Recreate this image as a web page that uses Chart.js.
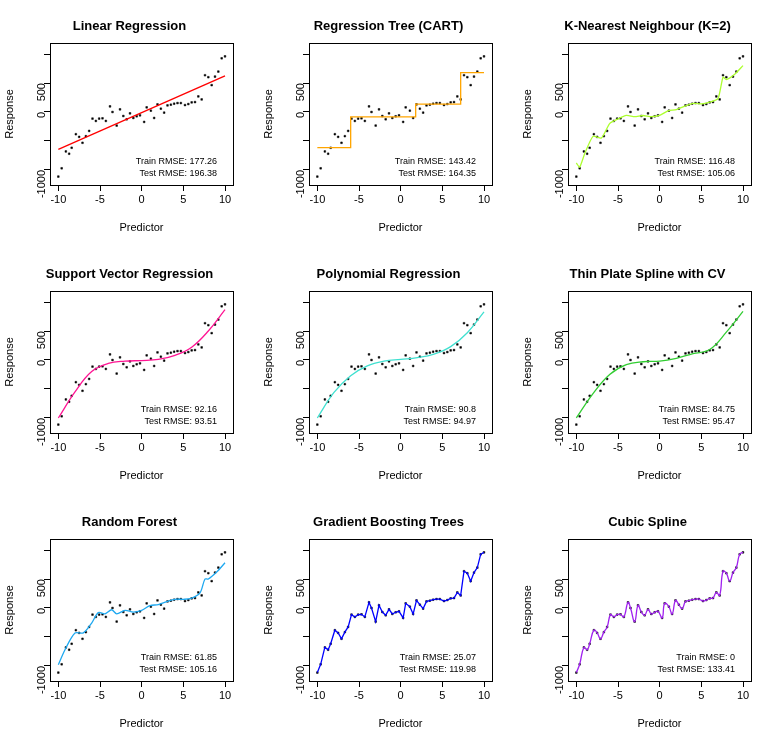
<!DOCTYPE html>
<html><head><meta charset="utf-8">
<script src="https://cdn.jsdelivr.net/npm/chart.js@4/dist/chart.umd.min.js"></script>
<style>body{margin:0;background:#fff}#g{position:relative;width:777px;height:744px}
.c{position:absolute;width:259px;height:248px}</style></head><body><div id="g"></div>
<script>
const dataX=[-10,-9.6,-9.1,-8.7,-8.4,-7.9,-7.5,-7.1,-6.7,-6.3,-5.9,-5.5,-5.1,-4.7,-4.3,-3.8,-3.5,-3.0,-2.6,-2.2,-1.8,-1.4,-1.0,-0.6,-0.2,0.3,0.6,1.1,1.5,1.9,2.3,2.7,3.1,3.5,3.9,4.3,4.7,5.2,5.6,6.0,6.4,6.8,7.2,7.6,8.0,8.4,8.8,9.2,9.6,10.0];
const dataY=[-1114,-971,-680,-720,-617,-383,-429,-531,-417,-326,-114,-154,-114,-109,-154,97,0,-234,46,-69,-126,-23,-103,-74,-57,-171,80,23,-103,131,57,-11,114,126,143,154,154,120,137,166,171,269,217,634,600,463,611,697,926,960];
const titles=["Linear Regression","Regression Tree (CART)","K-Nearest Neighbour (K=2)","Support Vector Regression","Polynomial Regression","Thin Plate Spline with CV","Random Forest","Gradient Boosting Trees","Cubic Spline"];
const trainRMSE=["177.26","143.42","116.48","92.16","90.8","84.75","61.85","25.07","0"];
const testRMSE=["196.38","164.35","105.06","93.51","94.97","95.47","105.16","119.98","133.41"];
const colors=["#FF0000","#FFA500","#ADFF2F","#FF1493","#40E0D0","#32CD32","#1EA8F0","#0000FF","#A020F0"];
const linX=[-10,10], linY=[-646,624];
const cartX=[-10,-6,-6,1.8,1.8,7.2,7.2,10], cartY=[-615,-615,-85,-85,137,137,680,680];
const knnX=[-10,-9.6,-9,-8,-7,-6,-5,-4,-3,-2,-1,0,1,2,3,4,5,6,7,7.6,8,9,10];
const knnY=[-880,-950,-720,-420,-450,-200,-120,-60,-80,-60,-80,-60,20,40,100,150,140,170,230,600,560,650,800];
const svrX=[-10,-8,-6,-4,-2,0,2,4,6,8,10], svrY=[-1000,-550,-200,-60,-20,-10,10,80,220,500,870];
const polyX=[-10,-8,-6,-4,-2,0,2,4,6,8,10], polyY=[-1000,-560,-270,-100,-20,10,40,100,230,470,830];
const tpsX=[-10,-8,-6,-4,-2,0,2,4,6,8,10], tpsY=[-1000,-580,-250,-80,-30,-20,30,110,180,480,840];
const rfX=[-10,-9.2,-8,-7,-6,-5.2,-4.4,-3.6,-3,-2,-1,0,1,2,3,4,5,6,7,7.6,8,9,10];
const rfY=[-980,-720,-430,-430,-260,-80,-100,-30,-100,-40,-70,-40,40,60,110,150,150,170,260,500,500,620,780];
const fits=[[linX,linY,0],[cartX,cartY,0],[knnX,knnY,0.2],[svrX,svrY,0.4],[polyX,polyY,0.4],[tpsX,tpsY,0.4],[rfX,rfY,0.3],[dataX,dataY,0],[dataX,dataY,0.45]];
const xTicks=[-10,-5,0,5,10], yTicks=[-1000,-500,0,500,1000], yLabels=["-1000","","0","500",""];
const F="'Liberation Sans', Arial, sans-serif";
const pts=(xs,ys)=>xs.map((x,i)=>({x,y:ys[i]}));
const g=document.getElementById('g');
titles.forEach((t,i)=>{
  const d=document.createElement('div');d.className='c';
  d.style.left=(i%3)*259+'px';d.style.top=Math.floor(i/3)*248+'px';
  const cv=document.createElement('canvas');cv.width=259;cv.height=248;
  cv.style.width='259px';cv.style.height='248px';d.appendChild(cv);g.appendChild(d);
  const deco={id:'deco',afterDraw(c){const a=c.chartArea,x=c.ctx;x.save();
    x.strokeStyle='#000';x.lineWidth=1;x.strokeRect(a.left+0.5,a.top+0.5,a.right-a.left,a.bottom-a.top);
    x.fillStyle='#000';x.textAlign='center';x.font='bold 13px '+F;x.fillText(t,129.5,30);
    x.font='11px '+F;x.fillText('Predictor',(a.left+a.right)/2,231);
    x.save();x.translate(13,(a.top+a.bottom)/2);x.rotate(-Math.PI/2);x.fillText('Response',0,0);x.restore();
    x.font='9px '+F;x.textAlign='right';
    x.fillText('Train RMSE: '+trainRMSE[i],a.right-16,164);x.fillText('Test RMSE: '+testRMSE[i],a.right-16,176);
    x.restore();}};
  const f=fits[i];
  new Chart(cv,{type:'scatter',data:{datasets:[
    {data:pts(f[0],f[1]),showLine:true,borderColor:colors[i],borderWidth:1.3,pointRadius:0,tension:f[2],fill:false},
    {data:pts(dataX,dataY),pointRadius:1.2,pointStyle:'rect',backgroundColor:'#000',borderColor:'#000',borderWidth:0.5}]},
   options:{responsive:false,maintainAspectRatio:false,animation:false,devicePixelRatio:1,layout:{padding:{top:43,right:26,left:0,bottom:0}},
    plugins:{legend:{display:false},tooltip:{enabled:false}},
    scales:{
     x:{type:'linear',min:-11,max:10.96,afterBuildTicks:s=>{s.ticks=xTicks.map(v=>({value:v}))},
        afterFit:s=>{s.height=63},grid:{drawOnChartArea:false,tickLength:6,color:'#000'},border:{display:false},
        ticks:{color:'#000',font:{size:11,family:F},maxRotation:0,padding:2,autoSkip:false}},
     y:{type:'linear',min:-1259,max:1190,afterBuildTicks:s=>{s.ticks=yTicks.map(v=>({value:v}))},
        afterFit:s=>{s.width=50},grid:{drawOnChartArea:false,tickLength:6,color:'#000'},border:{display:false},
        ticks:{color:'#000',font:{size:11,family:F},minRotation:90,maxRotation:90,padding:2,autoSkip:false,
          callback:(v)=>yLabels[yTicks.indexOf(v)]??''}}}},
   plugins:[deco]});
});
</script></body></html>
